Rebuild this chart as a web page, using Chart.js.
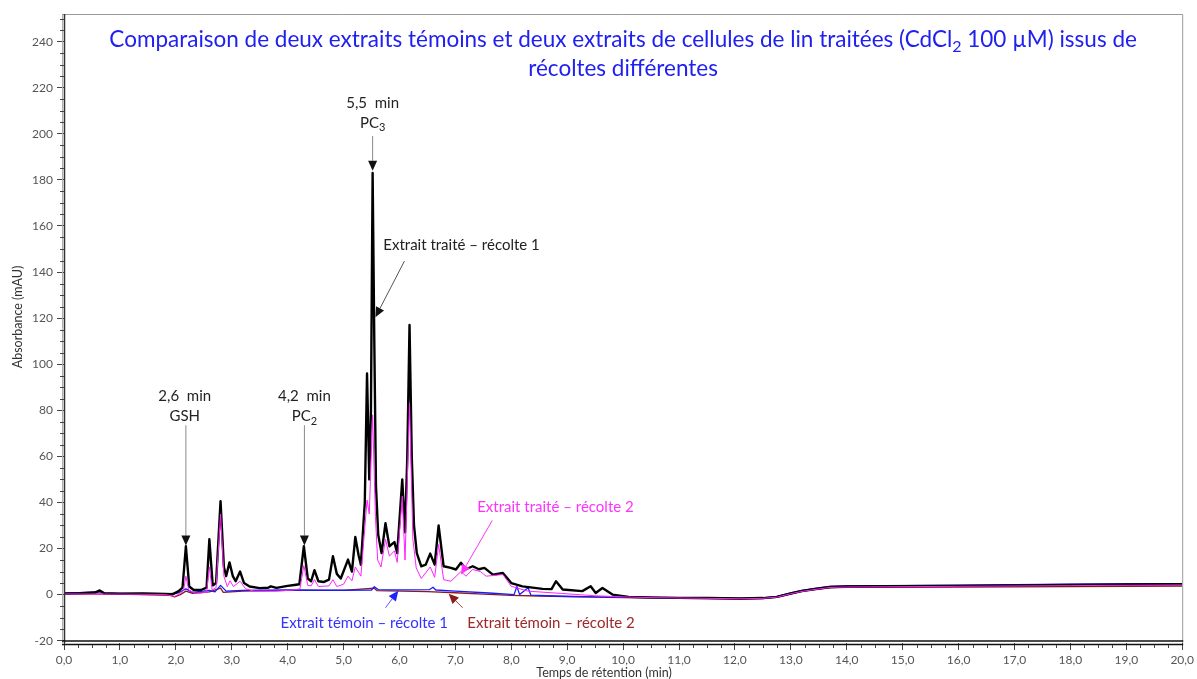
<!DOCTYPE html>
<html>
<head>
<meta charset="utf-8">
<title>Chromatogrammes</title>
<script src="https://cdn.jsdelivr.net/npm/chart.js@4.4.1/dist/chart.umd.min.js"></script>
<style>
  html, body { margin: 0; padding: 0; background: #fff; }
</style>
</head>
<body>
<canvas id="chromato" width="1197" height="679"></canvas>
<script>
const FONT = 'Lato, "Open Sans", sans-serif';

// retention time (min) / absorbance (mAU)
const timeTreated1 = [
  0, 0.3, 0.55, 0.64, 0.72, 1.0, 1.4, 1.8, 1.95, 2.05,
  2.12, 2.18, 2.24, 2.32, 2.45, 2.55, 2.6, 2.66, 2.72, 2.8,
  2.86, 2.9, 2.96, 3.02, 3.07, 3.15, 3.22, 3.32, 3.5, 3.65,
  3.7, 3.8, 4.0, 4.12, 4.21, 4.29, 4.36, 4.42, 4.48, 4.55,
  4.65, 4.74, 4.81, 4.88, 4.95, 5.08, 5.15, 5.21, 5.27, 5.31,
  5.38, 5.42, 5.46, 5.49, 5.52, 5.55, 5.58, 5.62, 5.68, 5.75,
  5.82, 5.91, 5.96, 6.05, 6.1, 6.14, 6.18, 6.22, 6.26, 6.31,
  6.39, 6.47, 6.55, 6.63, 6.7, 6.79, 6.92, 7.01, 7.1, 7.19,
  7.31, 7.42, 7.52, 7.67, 7.85, 8.0, 8.2, 8.56, 8.72, 8.8,
  8.92, 9.27, 9.42, 9.51, 9.63, 9.81, 10.1, 10.5, 11.0, 11.5,
  12.1, 12.5, 12.75, 13.0, 13.2, 13.45, 13.7, 14.0, 15.0, 16.0,
  17.0, 18.0, 19.0, 20.0
];
const absTreated1 = [
  0.5, 0.6, 0.9, 1.8, 0.6, 0.4, 0.5, 0.3, 0.2, 1.5,
  3, 21, 3.5, 2, 2, 3, 24, 4, 5, 40.5,
  12, 8, 14, 8, 5.8, 10, 5, 3.5, 2.8, 3,
  3.6, 2.9, 3.8, 4.2, 4.5, 21, 7, 5.8, 10.6, 5.8,
  5.5, 6.5, 16.7, 9, 7, 15.2, 10, 25, 17, 13,
  40, 96, 50, 80, 183, 110, 47, 26, 18, 31,
  21, 22.8, 18, 50, 27, 60, 117, 60, 30, 18,
  12.3, 13, 17.8, 13, 30, 12.3, 11.6, 10.9, 13.8, 11,
  12.3, 11, 11.6, 8.7, 9.4, 5, 3.6, 2.5, 2.4, 5.8,
  2.2, 1.5, 3.6, 0.7, 2.9, 0, -1, -1.2, -1.4, -1.5,
  -1.7, -1.5, -1, 0.5, 1.6, 2.5, 3.3, 3.5, 3.7, 3.8,
  4.0, 4.2, 4.4, 4.5
];

const timeTreated2 = [
  0, 1.0, 1.8, 1.98, 2.08, 2.14, 2.18, 2.23, 2.35, 2.55,
  2.6, 2.65, 2.72, 2.8, 2.86, 2.92, 2.97, 3.03, 3.15, 3.25,
  3.4, 3.8, 4.1, 4.22, 4.29, 4.36, 4.42, 4.48, 4.55, 4.74,
  4.81, 4.88, 5.0, 5.08, 5.15, 5.21, 5.31, 5.42, 5.46, 5.52,
  5.57, 5.61, 5.67, 5.75, 5.82, 5.91, 5.96, 6.05, 6.1, 6.18,
  6.24, 6.3, 6.39, 6.55, 6.63, 6.7, 6.79, 6.92, 7.1, 7.19,
  7.31, 7.45, 7.55, 7.85, 8.0, 8.3, 8.9, 9.5, 10.0, 10.5,
  11.5, 12.1, 12.5, 12.75, 13.0, 13.2, 13.45, 13.7, 14.0, 16.0,
  18.0, 20.0
];
const absTreated2 = [
  0.3, 0.2, 0.1, -0.8, 0.5, 2, 8, 2, 0.5, 1,
  12, 2, 3, 35, 8, 3.5, 6, 3.5, 5.8, 2.5,
  1.5, 1.5, 2, 2.5, 12.6, 4, 3.8, 6.5, 3.5, 3.8,
  6.5, 3.5, 4.5, 8, 6, 12, 8, 41, 35, 78,
  34, 15, 12, 24, 16.7, 19, 14, 42.7, 15, 83,
  24, 11.6, 7, 12, 7.5, 21.7, 6.5, 5.8, 10, 8,
  10.9, 10, 8, 8.7, 3.6, 1.5, 0.5, -0.5, -1, -1.3,
  -1.6, -1.8, -1.6, -1.1, 0.4, 1.4, 2.3, 3.1, 3.3, 3.6,
  3.9, 4.2
];

const timeControl1 = [
  0, 0.64, 0.72, 1.0, 1.9, 2.05, 2.18, 2.3, 2.6, 2.7,
  2.8, 2.9, 3.2, 4.0, 4.75, 5.5, 5.55, 5.62, 6.0, 6.54,
  6.6, 6.65, 7.0, 7.6, 8.05, 8.1, 8.15, 8.3, 8.35, 8.9,
  9.5, 10.5, 11.5, 12.1, 12.5, 12.75, 13.0, 13.2, 13.45, 13.7,
  14.0, 16.0, 18.0, 20.0
];
const absControl1 = [
  0.6, 1.2, 0.6, 0.5, 0.4, 0.8, 2.5, 1.0, 1.8, 1.2,
  4, 1.5, 1.8, 2.0, 1.9, 2.0, 3.4, 2.2, 2.1, 2.2,
  3.2, 2.0, 1.5, 0.7, 0, 3.5, 0, 3.0, -0.2, -0.7,
  -1.0, -1.3, -1.5, -1.6, -1.4, -0.8, 0.7, 1.8, 2.8, 3.6,
  3.8, 4.1, 4.5, 4.8
];

const timeControl2 = [
  0, 1.0, 1.9, 1.98, 2.08, 2.18, 2.3, 2.6, 2.8, 2.85,
  3.2, 4.0, 5.0, 5.55, 5.6, 6.5, 7.0, 7.5, 8.0, 8.5,
  9.5, 10.5, 11.5, 12.1, 12.5, 12.75, 13.0, 13.2, 13.45, 13.7,
  14.0, 16.0, 18.0, 20.0
];
const absControl2 = [
  0.3, 0.2, -0.3, -1.0, 0, 1.5, 0.5, 1.2, 2.8, 1.0,
  1.5, 1.8, 1.8, 2.8, 1.7, 1.3, 0.8, 0.2, -0.3, -0.6,
  -1.1, -1.5, -1.7, -1.9, -1.7, -1.2, 0.3, 1.3, 2.2, 2.9,
  3.1, 3.3, 3.5, 3.7
];

const titleLines = [
  'Comparaison de deux extraits témoins et deux extraits de cellules de lin traitées (CdCl_2 100 µM) issus de',
  'récoltes différentes'
];

// text notes: lines, position in data units (time, mAU), colour
const notes = [
  { lines: ['2,6  min', 'GSH'], at: [2.16, 86], color: '#222' },
  { lines: ['4,2  min', 'PC_2'], at: [4.30, 86], color: '#222' },
  { lines: ['5,5  min', 'PC_3'], at: [5.52, 213.5], color: '#222' },
  { lines: ['Extrait traité – récolte 1'], at: [7.11, 151.7], color: '#222' },
  { lines: ['Extrait traité – récolte 2'], at: [8.79, 37.8], color: '#ff33ff' },
  { lines: ['Extrait témoin – récolte 1'], at: [5.37, -12.6], color: '#3333ff' },
  { lines: ['Extrait témoin – récolte 2'], at: [8.71, -12.6], color: '#a02828' }
];

const arrows = [
  { from: [2.18, 73.5], to: [2.18, 21.3], line: '#8a8a8a', head: '#111' },
  { from: [4.30, 73.5], to: [4.30, 21.3], line: '#8a8a8a', head: '#111' },
  { from: [5.52, 199], to: [5.52, 184], line: '#8a8a8a', head: '#111' },
  { from: [6.09, 144.8], to: [5.57, 120.4], line: '#555', head: '#111' },
  { from: [7.66, 32.2], to: [7.10, 8.7], line: '#ff33ff', head: '#ff33ff' },
  { from: [5.75, -5.7], to: [5.98, 1.7], line: '#5555ff', head: '#2222ff' },
  { from: [7.13, -5.7], to: [6.88, 0.4], line: '#a04040', head: '#8b1a1a' }
];

const toXY = (ts, vs) => ts.map((t, i) => ({ x: t, y: vs[i] }));

function drawRich(ctx, str, cx, cy, size, color) {
  // "_2" in a string means a subscript 2
  const parts = str.split(/_(\d+)/);
  const subSize = Math.round(size * 0.7);
  let w = 0;
  parts.forEach((p, i) => {
    ctx.font = `${i % 2 ? subSize : size}px ${FONT}`;
    w += ctx.measureText(p).width;
  });
  let x = cx - w / 2;
  ctx.fillStyle = color;
  ctx.textAlign = 'left';
  ctx.textBaseline = 'middle';
  parts.forEach((p, i) => {
    const sub = i % 2 === 1;
    ctx.font = `${sub ? subSize : size}px ${FONT}`;
    ctx.fillText(p, x, sub ? cy + size * 0.32 : cy);
    x += ctx.measureText(p).width;
  });
}

function drawArrow(ctx, x1, y1, x2, y2, lineColor, headColor) {
  const ang = Math.atan2(y2 - y1, x2 - x1);
  const len = 10, half = 4.5;
  const bx = x2 - len * Math.cos(ang), by = y2 - len * Math.sin(ang);
  ctx.strokeStyle = lineColor;
  ctx.lineWidth = 1;
  ctx.beginPath();
  ctx.moveTo(x1, y1);
  ctx.lineTo(bx, by);
  ctx.stroke();
  ctx.fillStyle = headColor;
  ctx.beginPath();
  ctx.moveTo(x2, y2);
  ctx.lineTo(bx + half * Math.sin(ang), by - half * Math.cos(ang));
  ctx.lineTo(bx - half * Math.sin(ang), by + half * Math.cos(ang));
  ctx.closePath();
  ctx.fill();
}

const decorations = {
  id: 'decorations',
  afterDraw(chart) {
    const { ctx, chartArea: a, scales: { x, y } } = chart;
    ctx.save();

    // frame
    ctx.lineWidth = 1;
    ctx.strokeStyle = '#9a9a9a';
    ctx.beginPath();
    ctx.moveTo(a.left - 2, a.top + 0.5);
    ctx.lineTo(a.right + 0.5, a.top + 0.5);
    ctx.lineTo(a.right + 0.5, a.bottom);
    ctx.stroke();
    ctx.strokeStyle = '#b0b0b0';
    ctx.beginPath();
    ctx.moveTo(a.left - 1.5, a.top);
    ctx.lineTo(a.left - 1.5, a.bottom);
    ctx.stroke();
    ctx.strokeStyle = '#333';
    ctx.lineWidth = 1.5;
    ctx.beginPath();
    ctx.moveTo(a.left + 0.5, a.top);
    ctx.lineTo(a.left + 0.5, a.bottom);
    ctx.stroke();
    ctx.strokeStyle = '#111';
    ctx.lineWidth = 1.5;
    ctx.beginPath();
    ctx.moveTo(a.left - 2, a.bottom - 2);
    ctx.lineTo(a.right + 1, a.bottom - 2);
    ctx.moveTo(a.left - 2, a.bottom + 1.5);
    ctx.lineTo(a.right + 1, a.bottom + 1.5);
    ctx.stroke();

    // minor ticks
    ctx.strokeStyle = '#444';
    ctx.lineWidth = 1;
    ctx.beginPath();
    for (let v = -20; v <= 250; v += 5) {
      if (v % 20 === 0) continue;
      const py = Math.round(y.getPixelForValue(v)) + 0.5;
      ctx.moveTo(a.left - 4, py);
      ctx.lineTo(a.left, py);
    }
    for (let k = 1; k < 80; k++) {
      if (k % 4 === 0) continue;
      const pxv = Math.round(x.getPixelForValue(k / 4)) + 0.5;
      ctx.moveTo(pxv, a.bottom + 2);
      ctx.lineTo(pxv, a.bottom + 5);
    }
    ctx.stroke();

    // axis titles
    ctx.fillStyle = '#333';
    ctx.font = `12.5px ${FONT}`;
    ctx.textAlign = 'center';
    ctx.textBaseline = 'middle';
    ctx.fillText('Temps de rétention (min)', x.getPixelForValue(9.66), 673);
    ctx.save();
    ctx.translate(18, y.getPixelForValue(120.5));
    ctx.rotate(-Math.PI / 2);
    ctx.fillText('Absorbance (mAU)', 0, 0);
    ctx.restore();

    // title
    const cx = (a.left + a.right) / 2;
    titleLines.forEach((line, i) => drawRich(ctx, line, cx, a.top + 26 + i * 29, 22.5, '#2020f0'));

    // arrows and notes
    arrows.forEach(ar => {
      drawArrow(ctx,
        x.getPixelForValue(ar.from[0]), y.getPixelForValue(ar.from[1]),
        x.getPixelForValue(ar.to[0]), y.getPixelForValue(ar.to[1]),
        ar.line, ar.head);
    });
    notes.forEach(n => {
      const nx = x.getPixelForValue(n.at[0]);
      const ny = y.getPixelForValue(n.at[1]);
      n.lines.forEach((l, i) => drawRich(ctx, l, nx, ny + i * 20, 15, n.color));
    });

    ctx.restore();
  }
};

const ctx = document.getElementById('chromato');
new Chart(ctx, {
  type: 'line',
  data: {
    datasets: [
      { label: 'Extrait traité – récolte 2', data: toXY(timeTreated2, absTreated2),
        borderColor: '#ff22ff', borderWidth: 1, order: 0 },
      { label: 'Extrait traité – récolte 1', data: toXY(timeTreated1, absTreated1),
        borderColor: '#000', borderWidth: 2.4, order: 1 },
      { label: 'Extrait témoin – récolte 1', data: toXY(timeControl1, absControl1),
        borderColor: '#1a1aff', borderWidth: 1.3, order: 2 },
      { label: 'Extrait témoin – récolte 2', data: toXY(timeControl2, absControl2),
        borderColor: '#8b1a1a', borderWidth: 1.3, order: 3 }
    ]
  },
  options: {
    responsive: false,
    animation: false,
    events: [],
    layout: { padding: { top: 14, right: 13, left: 0, bottom: 0 } },
    elements: {
      point: { radius: 0 },
      line: { tension: 0, borderJoinStyle: 'round', fill: false }
    },
    plugins: { legend: { display: false }, tooltip: { enabled: false }, title: { display: false } },
    scales: {
      x: {
        type: 'linear', min: 0, max: 20,
        afterFit: s => { s.height = 36; },
        border: { display: false },
        grid: { drawOnChartArea: false, drawTicks: true, tickLength: 7, color: '#444' },
        ticks: {
          stepSize: 1, padding: 3, color: '#555', maxRotation: 0,
          font: { family: FONT, size: 12 },
          callback: v => v.toFixed(1).replace('.', ',')
        }
      },
      y: {
        min: -21, max: 252,
        afterFit: s => { s.width = 64; },
        border: { display: false },
        grid: { drawOnChartArea: false, drawTicks: true, tickLength: 7, color: '#444' },
        ticks: {
          stepSize: 20, includeBounds: false, padding: 4, color: '#555',
          font: { family: FONT, size: 12 }
        }
      }
    }
  },
  plugins: [decorations]
});
</script>
</body>
</html>
